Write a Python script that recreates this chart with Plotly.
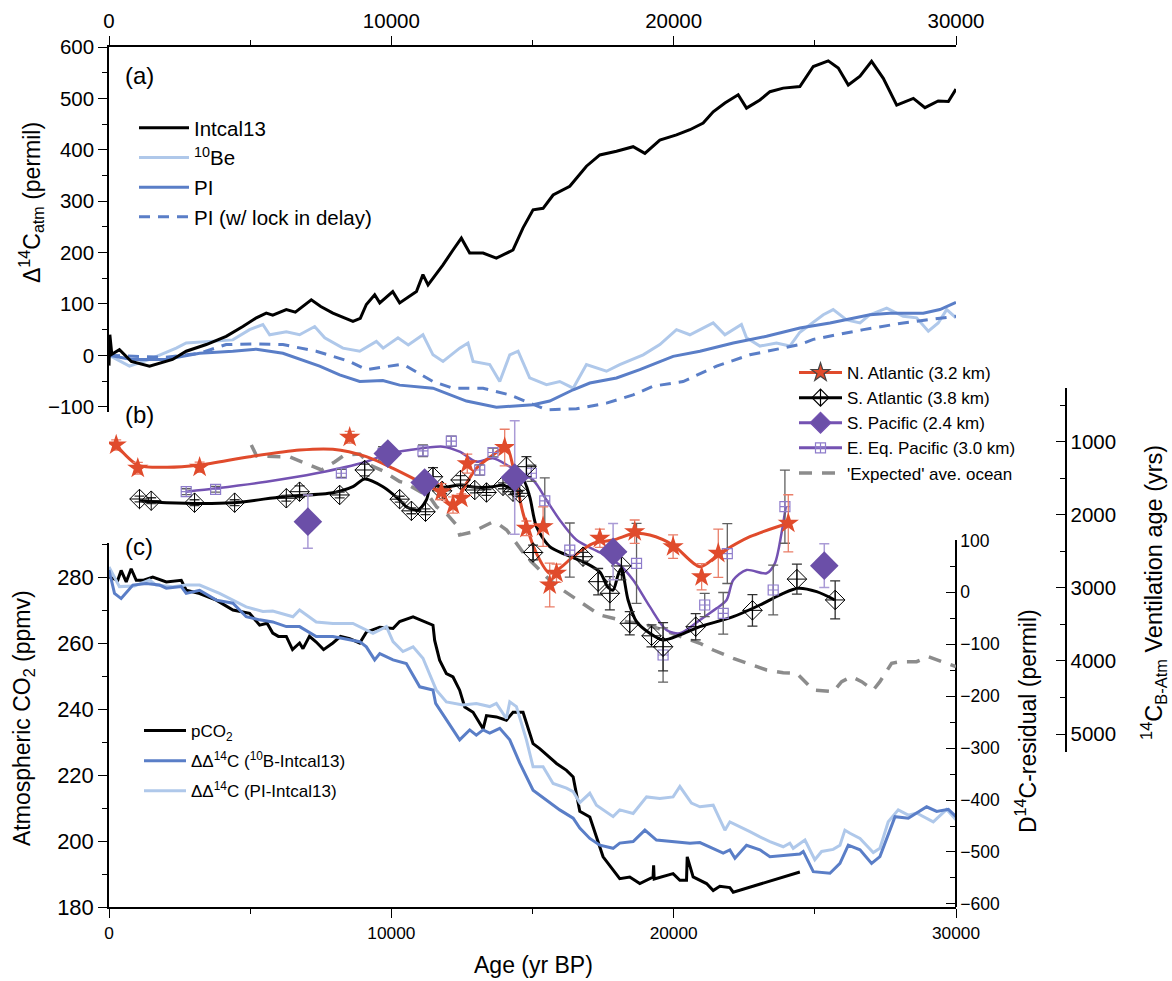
import plotly.graph_objects as go

# ---------------- DATA ----------------
# Panel (a): atmospheric D14C (permil) vs age (yr BP)
intcal_x = [0, 30, 100, 370, 790, 1435, 2250, 2735, 3445, 4150, 4740, 5220, 5570, 5800, 6280, 6600, 7165, 7500,
            7930, 8300, 8640, 8900, 9115, 9410, 9590, 10050, 10295, 10890, 11120, 11300, 11830, 12185, 12480, 12775,
            13250, 13720, 14310, 14665, 15020, 15375, 15730, 16320, 16910, 17385, 17975, 18565, 18980, 19510, 20100,
            20575, 21045, 21400, 21815, 22285, 22580, 23055, 23410, 23880, 24470, 24945, 25475, 25830, 26185, 26600,
            27010, 27425, 27900, 28490, 28900, 29370, 29730, 30000]
intcal_y = [-20, 40, 2, 11, -12, -21, -8, 8, 21, 37, 56, 73, 82, 78, 89, 84, 108, 95,
            82, 73, 66, 72, 99, 118, 102, 124, 102, 124, 157, 137, 176, 205, 228, 199,
            199, 189, 205, 248, 283, 286, 312, 329, 368, 390, 397, 406, 393, 419, 429,
            439, 452, 474, 491, 507, 481, 497, 513, 520, 523, 562, 573, 559, 526, 543,
            572, 539, 487, 500, 482, 495, 494, 518]

be_x = [0, 725, 1435, 2380, 2735, 3445, 4385, 4980, 5450, 5690, 6280, 6750, 7285, 7640, 8285, 8880, 9470, 9710,
        10235, 10600, 11120, 11475, 11830, 12420, 12715, 12895, 13485, 13840, 14195, 14490, 14900, 15495, 15965,
        16440, 16910, 17620, 18090, 18920, 19510, 20100, 20575, 21400, 21815, 22400, 22580, 23055, 23640, 24115,
        24470, 25300, 25650, 26125, 26600, 26950, 27545, 28130, 28605, 29020, 29370, 29670, 30000]
be_y = [0, -21, -8, 14, 24, 26, 30, 50, 60, 40, 46, 40, 56, 34, 14, 8, 27, 14,
        34, 20, 40, 1, -12, 14, 24, -12, -18, -51, 1, 8, -44, -57, -51,
        -64, -18, -31, -18, 1, 21, 50, 40, 63, 40, 60, 34, 18, 24, 18,
        45, 79, 89, 69, 63, 79, 92, 76, 73, 47, 63, 89, 73]

pi_x = [0, 800, 1980, 3210, 4385, 5220, 6160, 6750, 7460, 8170, 8880, 9700, 10295, 11475, 12660, 13720, 15020,
        15610, 16440, 17030, 17975, 18800, 19980, 20930, 22110, 23290, 24470, 25535, 26950, 27660, 28840, 29430, 30000]
pi_y = [0, -8, -8, 4, 8, 12, 4, -8, -21, -38, -51, -49, -58, -64, -89, -101, -96,
        -89, -67, -54, -44, -28, -2, 8, 24, 37, 53, 63, 79, 82, 82, 89, 103]

pilock_x = [0, 1980, 3210, 4150, 5220, 6160, 7340, 8525, 9115, 10295, 10500, 11475, 12185, 13250, 14195, 14900,
            15495, 16560, 17620, 18565, 19275, 20335, 21520, 22700, 24470, 24945, 26720, 28130, 29020, 30000]
pilock_y = [0, -4, 4, 21, 22, 21, 8, -12, -28, -18, -20, -51, -64, -64, -77, -93,
            -106, -104, -93, -77, -60, -51, -21, 1, 21, 31, 50, 63, 69, 76]

# Panel (b): 14C B-Atm ventilation age (yrs)
na_x = [255, 1020, 3210, 8525, 11775, 12185, 12480, 12690, 14015, 14785, 15375, 15610, 15850, 17385, 18620,
        19980, 20990, 21580, 24060]
na_age = [1045, 1364, 1350, 940, 1684, 1866, 1774, 1300, 1080, 2185, 2163, 2960, 2800, 2322, 2231,
          2436, 2847, 2527, 2116]
na_err = [70, 80, 70, 80, 110, 110, 60, 130, 250, 100, 270, 300, 125, 125, 160, 160, 180, 330, 390]
na_fit_x = [255, 1020, 2030, 3210, 4980, 6750, 7930, 9115, 10060, 11005, 11710, 12185, 12660, 13015, 13600,
            14075, 14310, 14665, 15140, 15610, 15965, 16440, 17150, 17855, 18620, 19155, 19980, 20930, 21640,
            22700, 24060]
na_fit_age = [1045, 1319, 1350, 1319, 1205, 1114, 1104, 1205, 1364, 1547, 1684, 1889, 1569, 1364, 1182,
              1068, 1342, 1979, 2527, 2800, 2732, 2573, 2390, 2345, 2253, 2276, 2413, 2710, 2527,
              2300, 2116]

sa_x = [1080, 1495, 3030, 4450, 6280, 6750, 8170, 9055, 10295, 10710, 11210, 11475, 11800, 12450, 12955, 13370,
        13955, 14310, 14550, 14785, 15020, 16790, 17325, 17740, 18150, 18445, 19215, 19625, 20780, 22790, 24365,
        25720]
sa_age = [1784, 1807, 1834, 1834, 1774, 1684, 1729, 1387, 1786, 1946, 1958, 1479, 1672, 1524, 1661, 1695,
          1604, 1684, 1706, 1342, 2516, 2573, 2915, 3074, 2700, 3484, 3656, 3805, 3531, 3307, 2880,
          3165]
sa_err = [40, 40, 40, 40, 40, 80, 40, 80, 40, 40, 40, 125, 40, 60, 40, 40,
          40, 40, 40, 137, 100, 60, 180, 228, 190, 160, 150, 330, 180, 215, 205, 260]
sa_fit_x = [1080, 2030, 4390, 6160, 7930, 8640, 9055, 9705, 10295, 10530, 10945, 11240, 11420, 11830, 12420,
            13015, 13600, 13955, 14310, 14665, 14900, 15140, 15610, 16205, 16910, 17385, 17680, 17855, 18030,
            18150, 18385, 18685, 19155, 19625, 20220, 20930, 22110, 23055, 23880, 24410, 25065, 25710]
sa_fit_age = [1807, 1834, 1834, 1752, 1698, 1616, 1510, 1616, 1798, 1889, 1934, 1798, 1592, 1624, 1592,
              1624, 1616, 1592, 1651, 1524, 1752, 2163, 2436, 2550, 2664, 2783, 2995, 3029, 2824,
              2732, 3166, 3462, 3621, 3713, 3644, 3531, 3394, 3234, 3074, 3005, 3052, 3166]

sp_x = [7045, 9875, 11180, 14370, 17855, 25335]
sp_age = [2094, 1163, 1558, 1490, 2505, 2696]
sp_err = [365, 0, 0, 775, 385, 300]

ep_x = [2735, 3775, 8230, 9705, 11120, 12125, 13130, 13600, 14960, 15435, 16320, 18685, 19625, 21100, 21755,
        21900, 23525, 23940]
ep_age = [1684, 1651, 1432, 1159, 1125, 993, 1387, 1148, 1432, 1810, 2482, 2664, 3918, 3234, 3348,
          2530, 3029, 1889]
ep_err = [40, 40, 55, 90, 80, 70, 70, 60, 110, 315, 370, 547, 370, 160, 285, 410, 340, 500]
ep_fit_x = [2735, 3800, 5570, 7345, 9115, 9880, 10650, 11830, 12420, 13015, 13600, 14195, 15020, 15495, 15965,
            16560, 17385, 18090, 18565, 19155, 19745, 20220, 20930, 21520, 21875, 22110, 22580, 23290, 23585,
            23820, 23975]
ep_fit_age = [1684, 1637, 1547, 1432, 1274, 1168, 1114, 1068, 1137, 1274, 1227, 1342, 1524, 1798, 2071,
              2345, 2516, 2687, 2892, 3257, 3576, 3621, 3439, 3279, 3166, 2892, 2755, 2800, 2664,
              2253, 1880]

exp_x = [5040, 5230, 6400, 7180, 7530, 7990, 8340, 8880, 9300, 9700, 10295, 10470, 11360, 11605, 12000, 12310,
         12420, 12880, 13590, 13840, 14085, 14655, 14900, 15255, 15610, 16070, 16425, 16910, 17385, 17855, 18330,
         18800, 19270, 20930, 21400, 22110, 22580, 23290, 23880, 24355, 24945, 25650, 25950, 26300, 26660, 27070,
         27305, 27720, 28015, 28605, 29020, 29550, 30000]
exp_age = [1045, 1196, 1209, 1332, 1387, 1278, 1182, 1168, 1330, 1400, 1545, 1561, 1757, 1893, 2003, 2140,
           2276, 2235, 2098, 2140, 2208, 2509, 2618, 2755, 2892, 3029, 3125, 3257, 3371, 3416, 3462,
           3484, 3531, 3758, 3850, 3963, 4031, 4123, 4160, 4168, 4397, 4420, 4283, 4215, 4283, 4397,
           4283, 4031, 4010, 4010, 3941, 4010, 4078]

# Panel (c): atmospheric CO2 (ppmv) and D14C residuals (permil)
co2_x = [0, 310, 430, 610, 785, 965, 1200, 1550, 2030, 2560, 2735, 3210, 3800, 4390, 4980, 5335, 5600, 5800, 6000,
         6280, 6500, 6750, 6870, 7100, 7340, 7600, 7930, 8200, 8525, 8880, 9115, 9590, 10060, 10295, 10770, 11475,
         11535, 11710, 11950, 12185, 12420, 12600, 12895, 13250, 13370, 13720, 14075, 14310, 14665, 15020, 15255,
         15850, 16205, 16440, 16675, 17030, 17500, 18090, 18445, 18800, 19270, 19290, 19310, 19980, 20220, 20455,
         20480, 20690, 21165, 21400, 21635, 21990, 22110, 24470]
co2_y = [280, 279, 282, 278.5, 282.5, 279, 279, 280, 278.5, 279, 276, 275, 273, 270, 269, 265.4, 266, 263, 262,
         262, 258, 260, 258.3, 262, 260.3, 258, 260, 262, 261.3, 260, 263.3, 264.8, 264.4, 266.5, 267.9, 265.4,
         260.8, 254.8, 250.7, 249.7, 245.7, 240.6, 239, 234, 238, 237.6, 236.6, 239, 239, 229.5, 228,
         223.5, 221.4, 219.4, 209, 207.3, 195.2, 188.6, 189.1, 187.1, 189.1, 192.6, 188.5, 190.1, 188.1, 188.1,
         195.2, 189.1, 187.1, 185, 186.3, 185.9, 184.5, 190.6]

ddbe_x = [0, 195, 430, 845, 1320, 1790, 2030, 2560, 2735, 3210, 3800, 4390, 4860, 5335, 5800, 6280, 6750, 7340,
          7930, 8410, 8880, 9115, 9410, 9590, 10060, 10530, 11005, 11475, 11570, 12420, 12775, 13010, 13250, 13485,
          13840, 14195, 14550, 15020, 15495, 15965, 16440, 16675, 17030, 17385, 17855, 18090, 18565, 18980, 19390,
          19980, 20575, 20930, 21755, 21990, 22170, 22580, 23055, 23410, 24470, 24590, 24945, 25535, 25890, 26185,
          26600, 27010, 27305, 27840, 28310, 28960, 29315, 29730, 30000]
ddbe_y = [43, -2, -12, 14, 17, 14, 8, 11, -2, 4, -15, -21, -47, -53, -57, -66, -66, -85,
          -85, -90, -95, -105, -130, -118, -130, -137, -182, -188, -214, -284, -265, -275, -265, -271,
          -262, -284, -329, -381, -400, -419, -435, -454, -474, -487, -493, -483, -480, -458, -477,
          -480, -483, -482, -502, -496, -512, -487, -496, -509, -504, -499, -538, -541, -522, -487,
          -496, -522, -509, -432, -435, -413, -422, -418, -432]

ddpi_x = [0, 370, 900, 1435, 1670, 2260, 2735, 3210, 3915, 4390, 4860, 5450, 5800, 6515, 6750, 7340, 7930, 8640,
          9350, 9825, 10060, 10410, 10770, 11120, 11590, 11950, 12540, 13010, 13485, 13720, 14075, 14195, 14430,
          14785, 15020, 15375, 15730, 16205, 16440, 16675, 17030, 17265, 17855, 18090, 18565, 19040, 19510, 19980,
          20220, 20630, 20930, 21400, 21815, 21990, 22345, 22700, 23055, 23410, 23880, 24115, 24235, 24650, 25000,
          25240, 25650, 25890, 26065, 26245, 26600, 27070, 27305, 27600, 27955, 28310, 28605, 29195, 29670, 30000]
ddpi_y = [49, 11, 12, 24, 14, 11, 14, 14, -2, -15, -28, -37, -36, -47, -34, -57, -60, -60,
          -79, -66, -95, -114, -105, -127, -188, -211, -217, -214, -220, -214, -243, -211, -220,
          -284, -336, -336, -368, -377, -384, -405, -387, -410, -432, -419, -426, -394, -397, -394,
          -374, -406, -413, -410, -458, -442, -451, -461, -471, -480, -490, -483, -493, -477, -515,
          -499, -495, -487, -458, -464, -474, -501, -493, -442, -419, -429, -425, -442, -418, -438]

# ---------------- LAYOUT GEOMETRY ----------------
FONT = "Liberation Sans, Arial, sans-serif"
W, H = 1172, 981
ML, MR, MT, MB = 109, 72, 47, 74
PW, PH = W - ML - MR, H - MT - MB


def fx(px):
    return (px - ML) / PW


def fy(py):
    return 1 - (py - MT) / PH


XR = fx(956)
A_PX = (406.7 - 46.7) / 700.0  # px per permil in panel (a)
BLACK = "#000000"
RED = "#E04B2C"
RED_ERR = "#EA7E68"
PURPLE = "#6B4FA8"
PURPLE_LINE = "#7452B2"
EP_MK = "#8E7CCB"
SP_ERR = "#AA9BD6"
GREY = "#8C8C8C"
BLUE = "#5A7EC7"
LBLUE = "#AFC8EA"

fig = go.Figure()

# ----- panel (a) -----
fig.add_trace(go.Scatter(x=be_x, y=be_y, xaxis="x2", yaxis="y2", mode="lines", name="<sup>10</sup>Be",
                         line=dict(color=LBLUE, width=3), legend="legend", legendrank=2))
fig.add_trace(go.Scatter(x=pi_x, y=pi_y, xaxis="x2", yaxis="y2", mode="lines", name="PI",
                         line=dict(color=BLUE, width=3), legend="legend", legendrank=3))
fig.add_trace(go.Scatter(x=pilock_x, y=pilock_y, xaxis="x2", yaxis="y2", mode="lines",
                         name="PI (w/ lock in delay)",
                         line=dict(color=BLUE, width=3, dash="11px,8px"), legend="legend", legendrank=4))
fig.add_trace(go.Scatter(x=intcal_x, y=intcal_y, xaxis="x2", yaxis="y2", mode="lines", name="Intcal13",
                         line=dict(color=BLACK, width=3), legend="legend", legendrank=1))

# ----- panel (c) -----
fig.add_trace(go.Scatter(x=ddpi_x, y=ddpi_y, xaxis="x", yaxis="y3", mode="lines",
                         name="ΔΔ<sup>14</sup>C (PI-Intcal13)",
                         line=dict(color=LBLUE, width=3), legend="legend3", legendgroup="c3", legendrank=3))
fig.add_trace(go.Scatter(x=ddbe_x, y=ddbe_y, xaxis="x", yaxis="y3", mode="lines",
                         name="ΔΔ<sup>14</sup>C (<sup>10</sup>B-Intcal13)",
                         line=dict(color=BLUE, width=3), legend="legend3", legendgroup="c2", legendrank=2))
fig.add_trace(go.Scatter(x=co2_x, y=co2_y, xaxis="x", yaxis="y", mode="lines", name="pCO<sub>2</sub>",
                         line=dict(color=BLACK, width=3), legend="legend3", legendgroup="c1", legendrank=1))

# ----- panel (b) -----
fig.add_trace(go.Scatter(x=exp_x, y=exp_age, xaxis="x", yaxis="y4", mode="lines",
                         name="'Expected' ave. ocean", line=dict(color=GREY, width=3.5, dash="13px,10px"),
                         legend="legend2", legendrank=5))
fig.add_trace(go.Scatter(x=ep_fit_x, y=ep_fit_age, xaxis="x", yaxis="y4", mode="lines", showlegend=False,
                         line=dict(color=PURPLE_LINE, width=2.5, shape="spline", smoothing=0.8)))
fig.add_trace(go.Scatter(x=sa_fit_x, y=sa_fit_age, xaxis="x", yaxis="y4", mode="lines", showlegend=False,
                         line=dict(color=BLACK, width=3, shape="spline", smoothing=0.8)))
fig.add_trace(go.Scatter(x=na_fit_x, y=na_fit_age, xaxis="x", yaxis="y4", mode="lines", showlegend=False,
                         line=dict(color=RED, width=3, shape="spline", smoothing=0.8)))

fig.add_trace(go.Scatter(x=ep_x, y=ep_age, xaxis="x", yaxis="y4", mode="markers", showlegend=False,
                         marker=dict(symbol="square-cross-open", size=10, color=EP_MK, line=dict(width=1.2)),
                         error_y=dict(type="data", array=ep_err, color="#606060", thickness=1.3, width=5)))
fig.add_trace(go.Scatter(x=sa_x, y=sa_age, xaxis="x", yaxis="y4", mode="markers", showlegend=False,
                         marker=dict(symbol="diamond-cross-open", size=15, color=BLACK, line=dict(width=1)),
                         error_y=dict(type="data", array=sa_err, color="#303030", thickness=1.3, width=5)))
fig.add_trace(go.Scatter(x=na_x, y=na_age, xaxis="x", yaxis="y4", mode="markers", showlegend=False,
                         marker=dict(symbol="star", size=16, color=RED, line=dict(width=0)),
                         error_y=dict(type="data", array=na_err, color=RED_ERR, thickness=1.3, width=5)))
fig.add_trace(go.Scatter(x=sp_x, y=sp_age, xaxis="x", yaxis="y4", mode="markers", showlegend=False,
                         marker=dict(symbol="diamond", size=22, color=PURPLE, line=dict(width=0)),
                         error_y=dict(type="data", array=sp_err, color=SP_ERR, thickness=1.5, width=5)))

# legend entries for panel (b)
leg_b = [
    ("N. Atlantic (3.2 km)", RED, "star", 14, RED, 1),
    ("S. Atlantic (3.8 km)", BLACK, "diamond-cross-open", 13, BLACK, 2),
    ("S. Pacific (2.4 km)", PURPLE_LINE, "diamond", 22, PURPLE, 3),
    ("E. Eq. Pacific (3.0 km)", PURPLE_LINE, "square-cross-open", 10, EP_MK, 4),
]
for name, lc, sym, sz, mc, rk in leg_b:
    fig.add_trace(go.Scatter(x=[None], y=[None], xaxis="x", yaxis="y4", mode="lines+markers", name=name,
                             line=dict(color=lc, width=3),
                             marker=dict(symbol=sym, size=sz, color=mc, line=dict(width=1.2)),
                             legend="legend2", legendrank=rk))


def tickfont(s):
    return dict(family=FONT, size=s, color=BLACK)


def minor(dt, side):
    return dict(dtick=dt, ticklen=5, tickwidth=1.3, tickcolor=BLACK, ticks=side)


common = dict(showgrid=False, zeroline=False, showline=True, linecolor=BLACK, linewidth=1.5,
              ticklen=9, tickwidth=1.3, tickcolor=BLACK)

fig.update_layout(
    width=W, height=H,
    margin=dict(l=ML, r=MR, t=MT, b=MB, autoexpand=False),
    paper_bgcolor="white", plot_bgcolor="rgba(0,0,0,0)",
    font=dict(family=FONT, color=BLACK),
    xaxis=dict(domain=[0, XR], anchor="y", range=[0, 30000], ticks="outside", dtick=10000, tickformat="d",
               tickfont=tickfont(17.3), minor=minor(5000, "outside"), **common),
    xaxis2=dict(domain=[0, XR], anchor="y2", side="top", range=[0, 30000], ticks="outside", dtick=10000,
                tickformat="d", tickfont=tickfont(20.5), minor=minor(5000, "outside"), **common),
    yaxis=dict(domain=[0, fy(542.7)], anchor="x", range=[180, 180 + (907 - 542.7) / 3.3], ticks="outside",
               dtick=20, tickfont=tickfont(22), minor=minor(10, "outside"), **common),
    yaxis2=dict(domain=[fy(406.7 + 10 * A_PX), 1], anchor="x2", range=[-110, 600], ticks="outside", dtick=100,
                tick0=0, tickfont=tickfont(20.5), minor=minor(50, "outside"), **common),
    yaxis3=dict(domain=[0, fy(540.3)], anchor="free", position=XR, side="right", range=[-606, 100.2],
                ticks="inside", dtick=100, tickfont=tickfont(17.5), minor=minor(50, "inside"), **common),
    yaxis4=dict(domain=[fy(751.7), fy(388.3)], anchor="free", position=fx(1065.7), side="right",
                range=[5241, 269.5], ticks="inside", dtick=1000, tick0=0, tickformat="d",
                tickfont=tickfont(20.5), minor=minor(500, "inside"), **common),
    legend=dict(x=fx(134), y=fy(108), xanchor="left", yanchor="top", bgcolor="rgba(0,0,0,0)",
                borderwidth=0, itemwidth=50, font=dict(family=FONT, size=20.5, color=BLACK),
                traceorder="normal"),
    legend2=dict(x=fx(794), y=fy(355), xanchor="left", yanchor="top", bgcolor="rgba(0,0,0,0)",
                 borderwidth=0, itemwidth=43, font=dict(family=FONT, size=17, color=BLACK),
                 traceorder="normal"),
    legend3=dict(x=fx(139), y=fy(713), xanchor="left", yanchor="top", bgcolor="rgba(0,0,0,0)",
                 borderwidth=0, itemwidth=42, font=dict(family=FONT, size=17, color=BLACK),
                 traceorder="grouped", tracegroupgap=5),
    showlegend=True,
)

ann = [
    dict(text="(a)", x=fx(123), y=fy(75.5), xanchor="left", yanchor="middle", size=24, angle=0),
    dict(text="(b)", x=fx(123), y=fy(414), xanchor="left", yanchor="middle", size=24, angle=0),
    dict(text="(c)", x=fx(123), y=fy(546), xanchor="left", yanchor="middle", size=24, angle=0),
    dict(text="Δ<sup>14</sup>C<sub>atm</sub> (permil)", x=fx(31), y=fy(203), xanchor="center",
         yanchor="middle", size=23, angle=-90),
    dict(text="Atmospheric CO<sub>2</sub> (ppmv)", x=fx(23), y=fy(718), xanchor="center",
         yanchor="middle", size=23, angle=-90),
    dict(text="D<sup>14</sup>C-residual (permil)", x=fx(1026), y=fy(721), xanchor="center",
         yanchor="middle", size=23, angle=-90),
    dict(text="<sup>14</sup>C<sub>B-Atm</sub> Ventilation age (yrs)", x=fx(1153), y=fy(593),
         xanchor="center", yanchor="middle", size=23.5, angle=-90),
    dict(text="Age (yr BP)", x=fx(533), y=fy(965), xanchor="center", yanchor="middle", size=23, angle=0),
]
for a in ann:
    fig.add_annotation(text=a["text"], xref="paper", yref="paper", x=a["x"], y=a["y"],
                       xanchor=a["xanchor"], yanchor=a["yanchor"], showarrow=False, textangle=a["angle"],
                       font=dict(family=FONT, size=a["size"], color=BLACK))

fig.write_html("out.html", config={"displayModeBar": False},
               post_script="document.body.style.margin='0px';document.body.style.padding='0px';"
                           "document.documentElement.style.overflow='hidden';")
